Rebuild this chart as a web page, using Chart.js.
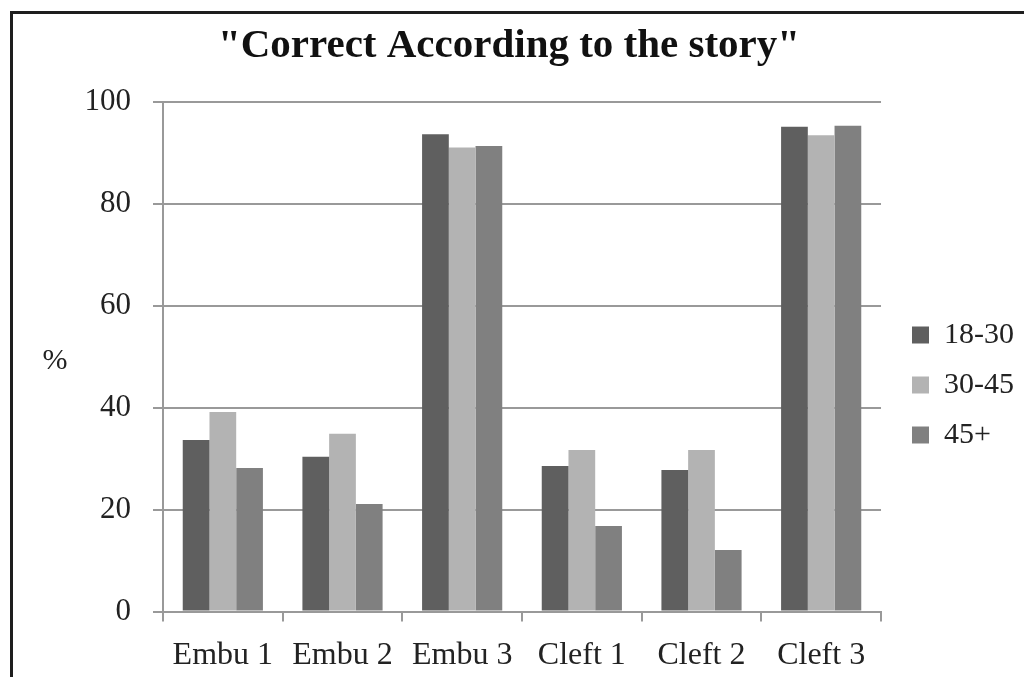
<!DOCTYPE html>
<html>
<head>
<meta charset="utf-8">
<script src="https://cdn.jsdelivr.net/npm/chart.js@4.4.0/dist/chart.umd.min.js"></script>
<style>
    html, body { margin: 0; padding: 0; background: #fff; }
    #wrap { position: relative; width: 1024px; height: 677px; overflow: hidden; }
    #frame {
        position: absolute; left: 10px; top: 11px; width: 1030px; height: 700px;
        border-left: 3px solid #1e1e1e; border-top: 3px solid #1e1e1e;
        pointer-events: none;
    }
    canvas { position: absolute; left: 0; top: 0; }
</style>
</head>
<body>
<div id="wrap">
    <canvas id="barChart" width="1024" height="677"></canvas>
    <div id="frame"></div>
</div>
<script>
const categories = ['Embu 1', 'Embu 2', 'Embu 3', 'Cleft 1', 'Cleft 2', 'Cleft 3'];
const ageGroups = ['18-30', '30-45', '45+'];
const values1830 = [33.7, 30.4, 93.7, 28.6, 27.8, 95.2];
const values3045 = [39.2, 34.9, 91.1, 31.7, 31.7, 93.5];
const values45plus = [28.2, 21.1, 91.4, 16.8, 12.1, 95.4];
const yTicks = [0, 20, 40, 60, 80, 100];
const barColors = ['#5f5f5f', '#b3b3b3', '#808080'];

const serif = "'Liberation Serif', 'Times New Roman', serif";
const padL = -6;

// draws the "%" axis label upright, left of the y axis
const percentLabel = {
    id: 'percentLabel',
    afterDraw(chart) {
        const ctx = chart.ctx;
        const area = chart.chartArea;
        ctx.save();
        ctx.font = '30px ' + serif;
        ctx.fillStyle = '#222';
        ctx.textAlign = 'center';
        ctx.textBaseline = 'middle';
        ctx.fillText('%', area.left - 108, (area.top + area.bottom) / 2 + 4);
        ctx.restore();
    }
};

const ctx = document.getElementById('barChart').getContext('2d');
new Chart(ctx, {
    type: 'bar',
    data: {
        labels: categories,
        datasets: [
            { label: ageGroups[0], data: values1830, backgroundColor: barColors[0] },
            { label: ageGroups[1], data: values3045, backgroundColor: barColors[1] },
            { label: ageGroups[2], data: values45plus, backgroundColor: barColors[2] }
        ]
    },
    options: {
        responsive: false,
        animation: false,
        layout: { padding: { left: padL, right: 0, top: 0, bottom: -13 } },
        datasets: {
            bar: { categoryPercentage: 0.67, barPercentage: 1.0 }
        },
        plugins: {
            title: {
                display: true,
                text: '"Correct According to the story"',
                color: '#111',
                font: { family: serif, size: 41, weight: 'bold' },
                padding: { top: 22, bottom: 31 }
            },
            legend: {
                position: 'right',
                title: {
                    display: true,
                    text: ' ',
                    font: { size: 10 },
                    padding: { top: 68, bottom: 0 }
                },
                labels: {
                    color: '#222',
                    font: { family: serif, size: 30 },
                    boxWidth: 17,
                    boxHeight: 17,
                    padding: 20
                }
            },
            tooltip: { enabled: false }
        },
        scales: {
            x: {
                grid: {
                    display: true,
                    drawOnChartArea: false,
                    offset: true,
                    tickLength: 10,
                    color: '#999',
                    lineWidth: 2
                },
                border: { color: '#999', width: 2 },
                ticks: {
                    color: '#222',
                    font: { family: serif, size: 32 },
                    padding: 15,
                    maxRotation: 0,
                    autoSkip: false
                }
            },
            y: {
                min: 0,
                max: 100,
                afterBuildTicks(axis) {
                    axis.ticks = yTicks.map(v => ({ value: v }));
                },
                afterFit(axis) {
                    axis.width = 163 - padL;
                },
                grid: {
                    color: '#999',
                    lineWidth: 2,
                    tickLength: 10
                },
                border: { color: '#999', width: 2 },
                ticks: {
                    color: '#222',
                    font: { family: serif, size: 31 },
                    padding: 22
                }
            },
            yGap: {
                position: 'right',
                display: true,
                grid: { display: false },
                border: { display: false },
                ticks: { display: false },
                afterFit(axis) {
                    axis.width = 11;
                }
            }
        }
    },
    plugins: [percentLabel]
});
</script>
</body>
</html>
